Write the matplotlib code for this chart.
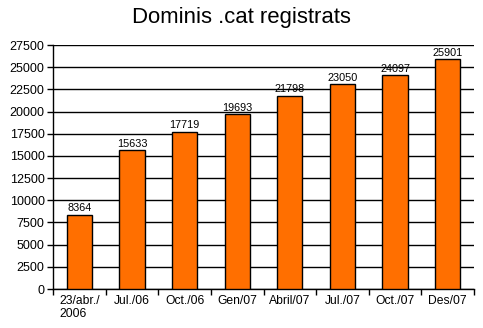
import matplotlib
matplotlib.use("Agg")
import matplotlib.pyplot as plt
import numpy as np

categories = ["23/abr./\n2006", "Jul./06", "Oct./06", "Gen/07", "Abril/07", "Jul./07", "Oct./07", "Des/07"]
values = [8364, 15633, 17719, 19693, 21798, 23050, 24097, 25901]
yticks = list(range(0, 27501, 2500))

plt.rcParams["font.family"] = ["Liberation Sans", "DejaVu Sans"]

fig = plt.figure(figsize=(4.83, 3.28), dpi=100)
ax = fig.add_axes([53 / 483, 39 / 328, 421 / 483, 244 / 328])

x = np.arange(len(categories))
ax.set_axisbelow(True)
ax.yaxis.grid(True, color="black", linewidth=1)
bars = ax.bar(x, values, width=0.48, color="#ff6f00", edgecolor="black", linewidth=1, zorder=3)

for xi, v in zip(x, values):
    ax.text(xi, v + 150, str(v), ha="center", va="bottom", fontsize=7.8)

ax.set_xlim(-0.5, len(categories) - 0.5)
ax.set_ylim(0, 27500)
ax.set_yticks(yticks)
ax.tick_params(axis="y", labelsize=9, length=4, width=1, pad=2)

ax.set_xticks(x)
ax.set_xticklabels(categories, fontsize=8.7, multialignment="left", va="top")
ax.tick_params(axis="x", which="major", length=0, pad=4)
ax.set_xticks(np.arange(len(categories) + 1) - 0.5, minor=True)
ax.tick_params(axis="x", which="minor", length=4, width=1)

for s in ["top", "right"]:
    ax.spines[s].set_visible(False)
for s in ["left", "bottom"]:
    ax.spines[s].set_linewidth(1)

fig.text(241 / 483, 1 - 18 / 328, "Dominis .cat registrats", ha="center", va="center", fontsize=15.9)

fig.savefig("out.png", dpi=100)
